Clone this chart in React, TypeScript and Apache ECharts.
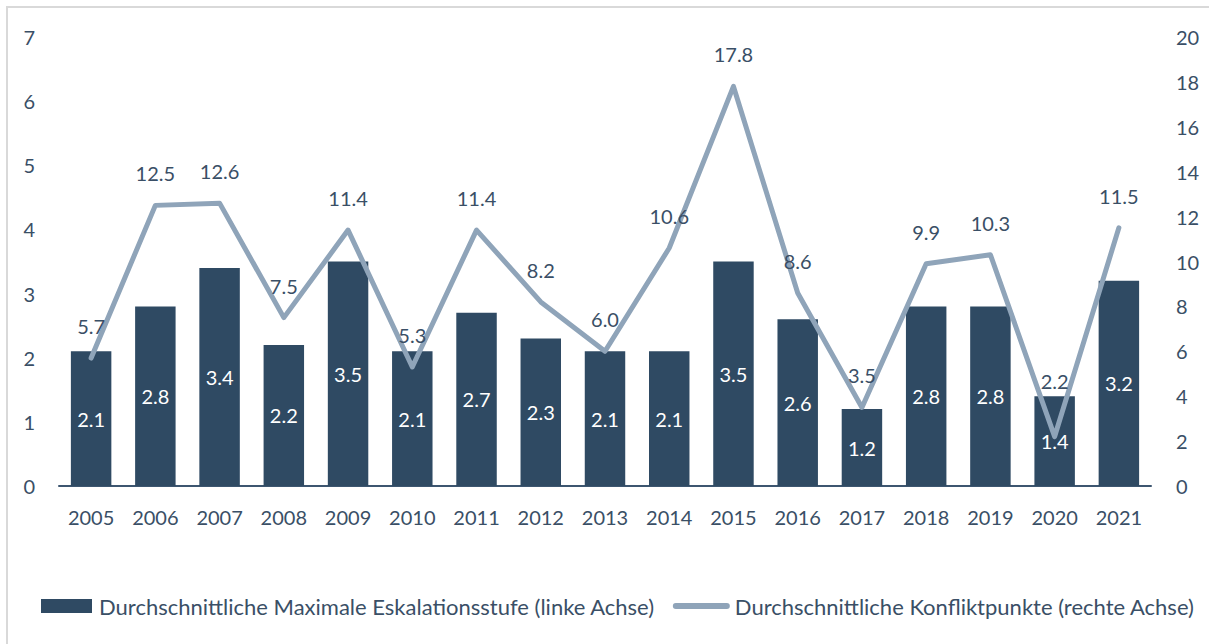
import React, { useEffect, useRef } from "react";
import * as echarts from "echarts";

const years = ["2005","2006","2007","2008","2009","2010","2011","2012","2013","2014","2015","2016","2017","2018","2019","2020","2021"];
const escalation = [2.1, 2.8, 3.4, 2.2, 3.5, 2.1, 2.7, 2.3, 2.1, 2.1, 3.5, 2.6, 1.2, 2.8, 2.8, 1.4, 3.2];
const conflictPoints = [5.7, 12.5, 12.6, 7.5, 11.4, 5.3, 11.4, 8.2, 6.0, 10.6, 17.8, 8.6, 3.5, 9.9, 10.3, 2.2, 11.5];
const seriesNames = [
  "Durchschnittliche Maximale Eskalationsstufe (linke Achse)",
  "Durchschnittliche Konfliktpunkte (rechte Achse)",
];

const TEXT = "#3A4F66";
const BAR = "#2F4A63";
const LINE = "#8FA4B9";
const FONT = "Lato, 'Open Sans', sans-serif";
const LABEL_DIST = 21;

export default function App() {
  const ref = useRef<HTMLDivElement>(null);
  useEffect(() => {
    document.body.style.margin = "0";
    const chart = echarts.init(ref.current!, null, { renderer: "svg" });
    const lineLabel = {
      show: true,
      position: "top",
      distance: LABEL_DIST,
      color: TEXT,
      fontSize: 20,
      fontFamily: FONT,
      formatter: (p: any) => Number(p.value).toFixed(1),
    };
    chart.setOption({
      animation: false,
      backgroundColor: "#ffffff",
      textStyle: { fontFamily: FONT },
      graphic: [
        {
          type: "rect",
          shape: { x: 7, y: 7, width: 1300, height: 700 },
          style: { fill: "none", stroke: "#D9D9D9", lineWidth: 2 },
          silent: true,
        },
      ],
      grid: { left: 59, right: 58, top: 37, bottom: 158, containLabel: false },
      legend: {
        left: 32,
        top: 590,
        itemWidth: 57,
        itemHeight: 14,
        itemGap: 18,
        textStyle: { color: TEXT, fontSize: 22, fontFamily: FONT },
        data: [
          { name: seriesNames[0], icon: "path://M0,0M57,14M4,0h51v14h-51z" },
          { name: seriesNames[1], icon: "path://M0,0M57,14M3,4h51a3,3,0,0,1,0,6h-51a3,3,0,0,1,0,-6z" },
        ],
      },
      xAxis: {
        type: "category",
        data: years,
        axisLine: { show: true, lineStyle: { color: "#3D5670", width: 2 } },
        axisTick: { show: false },
        axisLabel: { color: TEXT, fontSize: 20, margin: 21, fontFamily: FONT },
      },
      yAxis: [
        {
          type: "value",
          min: 0,
          max: 7,
          interval: 1,
          splitLine: { show: false },
          axisLine: { show: false },
          axisTick: { show: false },
          axisLabel: { color: TEXT, fontSize: 20, margin: 24, fontFamily: FONT },
        },
        {
          type: "value",
          min: 0,
          max: 20,
          interval: 2,
          splitLine: { show: false },
          axisLine: { show: false },
          axisTick: { show: false },
          axisLabel: { color: TEXT, fontSize: 20, margin: 25, fontFamily: FONT },
        },
      ],
      series: [
        {
          name: seriesNames[0],
          type: "bar",
          data: escalation,
          yAxisIndex: 0,
          barCategoryGap: "37%",
          itemStyle: { color: BAR },
          label: {
            show: true,
            position: "inside",
            color: "#ffffff",
            fontSize: 20,
            fontFamily: FONT,
            formatter: (p: any) => Number(p.value).toFixed(1),
          },
          z: 2,
        },
        {
          name: seriesNames[1],
          type: "line",
          data: conflictPoints,
          yAxisIndex: 1,
          symbol: "circle",
          symbolSize: 2,
          showSymbol: true,
          lineStyle: { color: LINE, width: 5, cap: "round", join: "round" },
          itemStyle: { color: LINE },
          label: lineLabel,
          z: 3,
        },
      ],
    });
    // Move a line label above the bar when the line point sits deep inside its bar
    const lineData = conflictPoints.map((v, i) => {
      const linePx = chart.convertToPixel({ yAxisIndex: 1 }, v) as number;
      const barTop = chart.convertToPixel({ yAxisIndex: 0 }, escalation[i]) as number;
      if (linePx - barTop > 20) {
        return { value: v, label: { distance: linePx - barTop + 4 } };
      }
      return v;
    });
    chart.setOption({ series: [{}, { data: lineData }] });
    return () => chart.dispose();
  }, []);
  return <div ref={ref} style={{ width: 1209, height: 644 }} />;
}
